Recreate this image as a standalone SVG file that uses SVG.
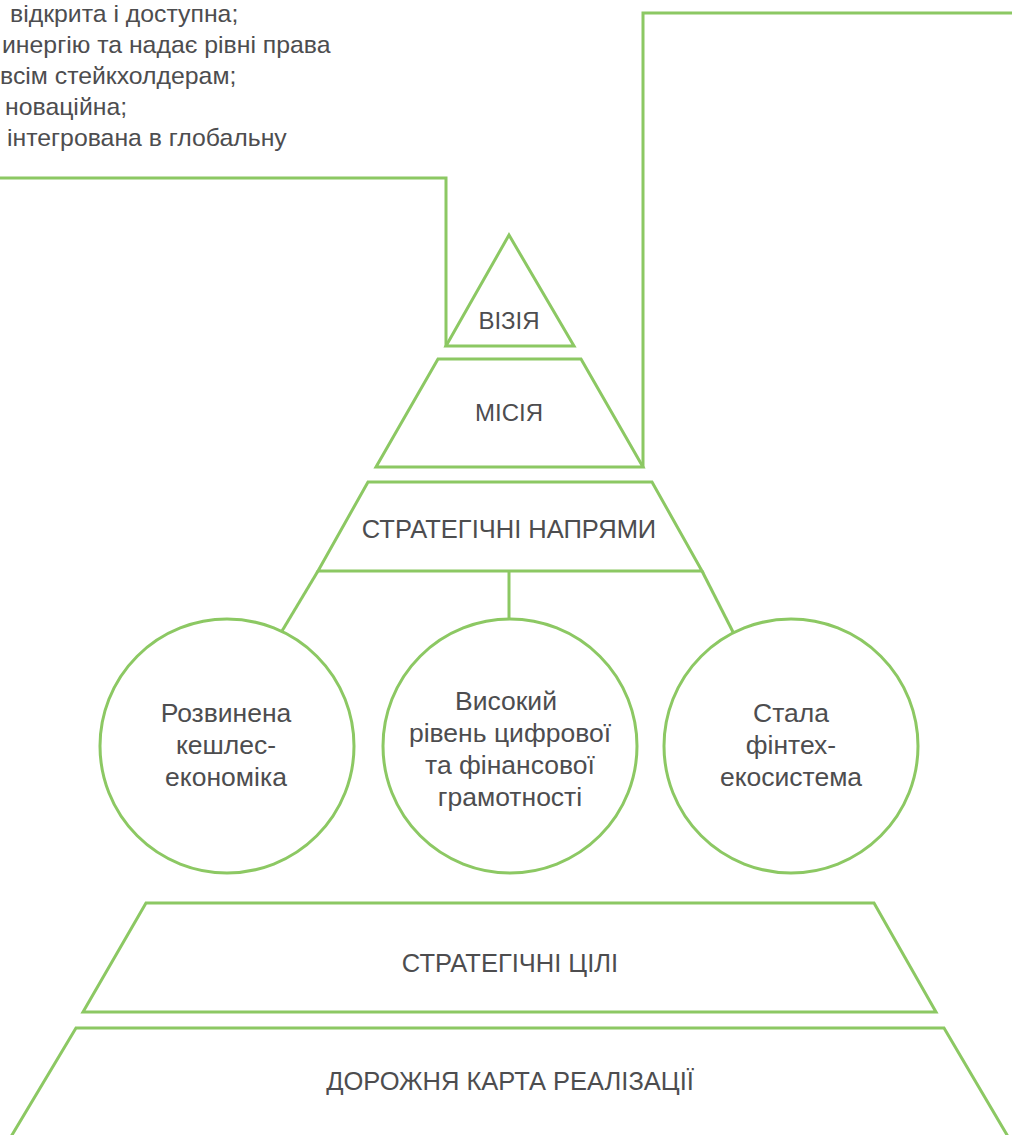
<svg xmlns="http://www.w3.org/2000/svg" width="1012" height="1135" viewBox="0 0 1012 1135">
<style>
.s{fill:none;stroke:#8cc863;stroke-width:3;stroke-linejoin:miter}
.t{font-family:"Liberation Sans",Arial,sans-serif;fill:#4d4d4f}
.cap{font-size:25.5px;text-anchor:middle}
.sm{font-size:24px;text-anchor:middle}
.c{font-size:26.5px;text-anchor:middle}
.top{font-size:24.8px}
</style>
<rect width="1012" height="1135" fill="#ffffff"/>
<g id="vision-text">
<text class="t top" x="10" y="22">відкрита і доступна;</text>
<text class="t top" x="2" y="53">инергію та надає рівні права</text>
<text class="t top" x="0" y="84">всім стейкхолдерам;</text>
<text class="t top" x="5" y="115">новаційна;</text>
<text class="t top" x="7" y="146">інтегрована в глобальну</text>
</g>
<g id="connectors">
<polyline class="s" points="0,178 446,178 446,347"/>
<polyline class="s" points="643,467 643,13 1012,13"/>
<line class="s" x1="318" y1="571" x2="282" y2="631"/>
<line class="s" x1="702" y1="571" x2="733" y2="632"/>
<line class="s" x1="509" y1="571" x2="509" y2="619"/>
</g>
<g id="vision">
<polygon class="s" points="509,235 446,346 574,346"/>
<text class="t sm" x="509" y="329">ВІЗІЯ</text>
</g>
<g id="mission">
<polygon class="s" points="438,359 581,359 643,467 376,467"/>
<text class="t sm" x="509" y="421">МІСІЯ</text>
</g>
<g id="directions">
<polygon class="s" points="368,482 652,482 702,571 318,571"/>
<text class="t cap" x="509" y="538">СТРАТЕГІЧНІ НАПРЯМИ</text>
</g>
<g id="cashless">
<circle class="s" cx="227" cy="746" r="127"/>
<text class="t c" x="226" y="722">Розвинена</text>
<text class="t c" x="226" y="754">кешлес-</text>
<text class="t c" x="226" y="786">економіка</text>
</g>
<g id="literacy">
<circle class="s" cx="510" cy="746" r="127"/>
<text class="t c" x="506" y="710">Високий</text>
<text class="t c" x="510" y="742">рівень цифрової</text>
<text class="t c" x="510" y="774">та фінансової</text>
<text class="t c" x="510" y="806">грамотності</text>
</g>
<g id="fintech">
<circle class="s" cx="791" cy="746" r="127"/>
<text class="t c" x="791" y="722">Стала</text>
<text class="t c" x="791" y="754">фінтех-</text>
<text class="t c" x="791" y="786">екосистема</text>
</g>
<g id="goals">
<polygon class="s" points="146,903 874,903 936,1012 83,1012"/>
<text class="t cap" x="510" y="972">СТРАТЕГІЧНІ ЦІЛІ</text>
</g>
<g id="roadmap">
<polyline class="s" points="9,1140 76,1028 944,1028 1010,1140"/>
<text class="t cap" x="510" y="1090">ДОРОЖНЯ КАРТА РЕАЛІЗАЦІЇ</text>
</g>
</svg>
